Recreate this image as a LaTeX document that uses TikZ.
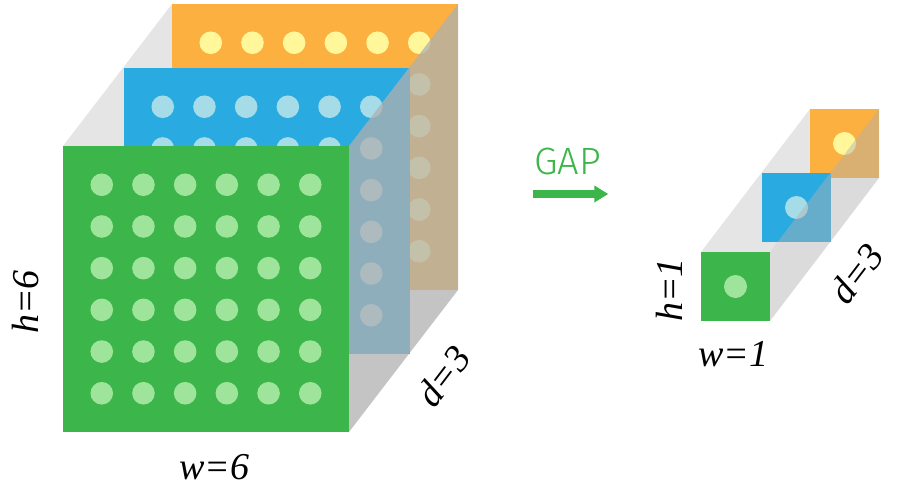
\documentclass[tikz,border=0pt]{standalone}
\usepackage{fontspec}
\setmainfont{Liberation Serif}[ItalicFont={Liberation Serif Italic}]
\newfontfamily\gapfont{Fira Sans Light}
\usetikzlibrary{arrows.meta}
\definecolor{cgreen}{HTML}{3CB54A}
\definecolor{cgreendot}{HTML}{9EE59B}
\definecolor{cblue}{HTML}{29ABE2}
\definecolor{cbluedot}{HTML}{A6DCE8}
\definecolor{corange}{HTML}{FBB040}
\definecolor{corangedot}{HTML}{FFF799}
\definecolor{ctop}{HTML}{E5E5E5}
\definecolor{cside}{HTML}{B0B0B0}
\newcommand\bigsq[4]{% x y fill dot
  \fill[#3] (#1,#2) rectangle ++(286,286);
  \foreach \i in {0,...,5}{\foreach \j in {0,...,5}{
    \fill[#4] ({#1+38.75+41.7*\i},{#2+38.75+41.7*\j}) circle[radius=11.3pt];}}
}
\newcommand\smallsq[4]{% x y fill dot
  \fill[#3] (#1,#2) rectangle ++(69,69);
  \fill[#4] ({#1+34.5},{#2+34.5}) circle[radius=11.5pt];
}
\begin{document}
\begin{tikzpicture}[x=1pt,y=-1pt,
  dimlabel/.style={font=\fontsize{38}{40}\selectfont\itshape, inner sep=0pt},
  gaplabel/.style={font=\gapfont\fontsize{38}{40}\selectfont, text=cgreen, inner sep=0pt}]
\useasboundingbox (0,0) rectangle (900,490);
% ---- big cube ----
\fill[ctop] (63,146) -- (172,4) -- (458,4) -- (349,146) -- cycle;
\bigsq{172}{4}{corange}{corangedot}
\bigsq{124}{68}{cblue}{cbluedot}
\fill[cside, opacity=0.75] (349,146) -- (458,4) -- (458,290) -- (349,432) -- cycle;
\bigsq{63}{146}{cgreen}{cgreendot}
\node[dimlabel, anchor=base] (w6) at (214.5,479) {w=6};
\node[dimlabel, anchor=base, rotate=90] (h6) at (38,302) {h=6};
\node[dimlabel, rotate=52.7] (d3a) at (443,376) {d=3};
% ---- arrow ----
\node[gaplabel, anchor=base] (gap) at (567.5,174.3) {GAP};
\coordinate (arrS) at (532.5,194);
\coordinate (arrE) at (608.3,194);
\draw[cgreen, line width=8pt, -{Triangle[length=14pt,width=16pt]}] (arrS) -- (arrE);
% ---- small cube ----
\fill[ctop] (701,252) -- (810,109) -- (879,109) -- (770,252) -- cycle;
\smallsq{810}{109}{corange}{corangedot}
\smallsq{762}{173}{cblue}{cbluedot}
\fill[cside, opacity=0.45] (770,252) -- (879,109) -- (879,178) -- (770,321) -- cycle;
\smallsq{701}{252}{cgreen}{cgreendot}
\node[dimlabel, anchor=base] (w1) at (733,366.5) {w=1};
\node[dimlabel, anchor=base, rotate=90] (h1) at (682,290) {h=1};
\node[dimlabel, rotate=52.7] (d3b) at (856.5,273.5) {d=3};
\end{tikzpicture}
\end{document}
